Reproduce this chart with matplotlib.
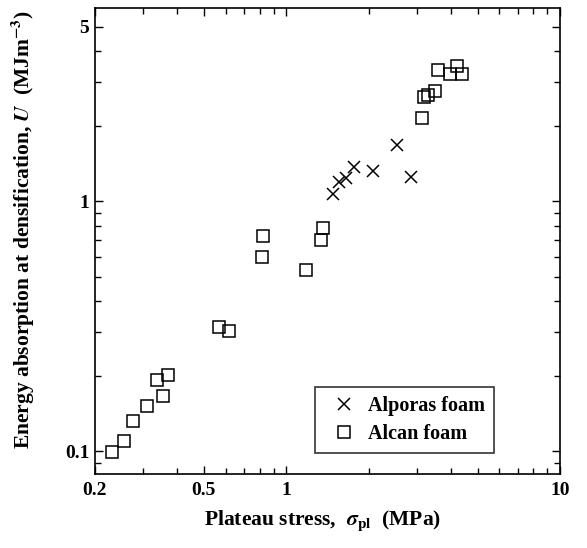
import matplotlib
matplotlib.use("Agg")
import matplotlib.pyplot as plt
from matplotlib.ticker import FixedLocator, NullFormatter, FixedFormatter

# Alporas foam (crosses)
alporas_stress = [1.48, 1.555, 1.654, 1.764, 2.078, 2.544, 2.845]
alporas_energy = [1.073, 1.195, 1.244, 1.371, 1.327, 1.690, 1.251]

# Alcan foam (squares)
alcan_stress = [3.594, 4.195, 3.955, 4.402, 3.494, 3.294, 3.184, 3.141,
                1.362, 1.343, 0.821, 0.812, 1.177,
                0.570, 0.615, 0.336, 0.371, 0.355, 0.311, 0.276, 0.255, 0.230]
alcan_energy = [3.364, 3.490, 3.243, 3.243, 2.780, 2.672, 2.613, 2.162,
                0.785, 0.698, 0.726, 0.601, 0.530,
                0.314, 0.303, 0.1935, 0.201, 0.1665, 0.152, 0.132, 0.110, 0.0993]

xticks = [0.2, 0.5, 1, 10]
xticklabels = ['0.2', '0.5', '1', '10']
yticks = [0.1, 1, 5]
yticklabels = ['0.1', '1', '5']

plt.rcParams['font.family'] = ['Liberation Serif', 'DejaVu Serif']
plt.rcParams['font.weight'] = 'bold'
plt.rcParams['mathtext.fontset'] = 'stix'

fig = plt.figure(figsize=(5.87, 5.48), dpi=100)
ax = fig.add_axes([0.1618, 0.135, 0.7922, 0.8504])

ax.plot(alporas_stress, alporas_energy, 'x', color='black', markersize=8.5,
        mew=1.1, label='Alporas foam')
ax.plot(alcan_stress, alcan_energy, 's', color='black', mfc='none', markersize=9.2,
        mew=1.1, label='Alcan foam')

ax.set_xscale('log')
ax.set_yscale('log')
ax.set_xlim(0.2, 10)
ax.set_ylim(0.081, 5.95)

ax.xaxis.set_major_locator(FixedLocator(xticks))
ax.xaxis.set_major_formatter(FixedFormatter(xticklabels))
ax.xaxis.set_minor_locator(FixedLocator([0.3, 0.4, 0.6, 0.7, 0.8, 0.9, 2, 3, 4, 5, 6, 7, 8, 9]))
ax.xaxis.set_minor_formatter(NullFormatter())
ax.yaxis.set_major_locator(FixedLocator(yticks))
ax.yaxis.set_major_formatter(FixedFormatter(yticklabels))
ax.yaxis.set_minor_locator(FixedLocator([0.09, 0.2, 0.3, 0.4, 0.5, 0.6, 0.7, 0.8, 0.9, 2, 3, 4]))
ax.yaxis.set_minor_formatter(NullFormatter())

ax.tick_params(which='both', direction='in', top=True, right=True, width=1)
ax.tick_params(which='major', length=6, labelsize=14)
ax.tick_params(which='minor', length=4)
ax.tick_params(axis='x', which='major', pad=6)
ax.tick_params(axis='y', which='major', pad=4)
for s in ax.spines.values():
    s.set_linewidth(1.2)

ax.set_xlabel(r'Plateau stress,  $\boldsymbol{\sigma}_{\mathbf{pl}}$  (MPa)', fontsize=15.5,
              fontweight='bold')
ax.xaxis.set_label_coords(0.49, -0.075)
ax.set_ylabel(r'Energy absorption at densification, $\boldsymbol{U}$  (MJm$^{\mathbf{-3}}$)',
              fontsize=15.5, fontweight='bold')
ax.yaxis.set_label_coords(-0.125, 0.524)

leg = ax.legend(loc='lower left', bbox_to_anchor=(0.473, 0.045), fontsize=14.5,
                frameon=True, fancybox=False, edgecolor='black', handletextpad=0.2,
                borderpad=0.45, labelspacing=0.4, handlelength=2.0, borderaxespad=0)
leg.get_frame().set_linewidth(1.2)
for t in leg.get_texts():
    t.set_fontweight('bold')

fig.savefig('out.png', dpi=100)
